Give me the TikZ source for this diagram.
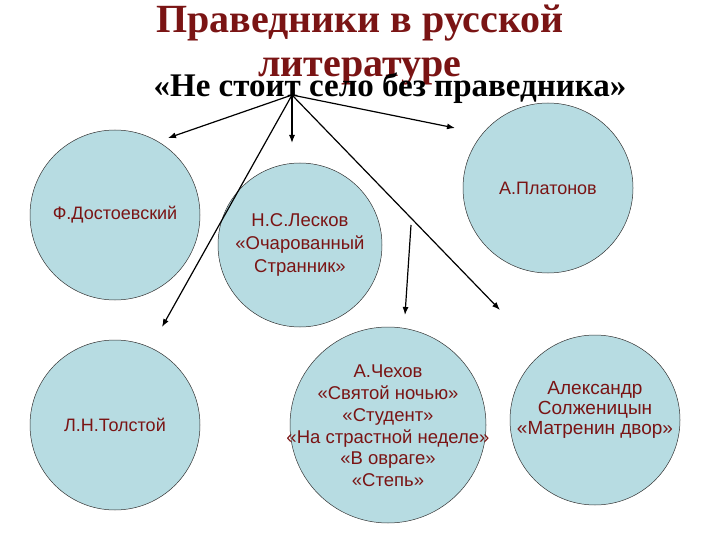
\documentclass[tikz,border=0pt]{standalone}
\usepackage{fontspec}
\setmainfont{Liberation Serif}
\setsansfont{Liberation Sans}
\usetikzlibrary{arrows.meta}
\definecolor{circ}{HTML}{B7DCE2}
\definecolor{dred}{HTML}{7A1414}
\begin{document}
\begin{tikzpicture}[x=1pt,y=-1pt,
  person/.style={circle,draw=black!80,line width=0.5pt,fill=circ,inner sep=0pt},
  lab/.style={font=\sffamily\fontsize{18}{22}\selectfont,text=dred,align=center},
  arr/.style={-{Latex[length=8pt,width=6pt]},line width=1.2pt}]
\useasboundingbox (0,0) rectangle (720,540);
\node[person,minimum size=170pt] (dost) at (115,215) {};
\node[person,minimum size=170pt] (plat) at (548,188) {};
\node[person,minimum size=164pt] (lesk) at (300,245) {};
\node[person,minimum size=170pt] (tol) at (115,425) {};
\node[person,minimum size=196pt] (chek) at (388,425) {};
\node[person,minimum size=170pt] (solz) at (595,420) {};
\node[lab] (tdost) at (115,215) {Ф.Достоевский};
\node[lab] (tplat) at (548,188) {А.Платонов};
\node[lab,font=\sffamily\fontsize{18.5}{23}\selectfont] (tlesk) at (300,245) {Н.С.Лесков\\«Очарованный\\Странник»};
\node[lab,font=\sffamily\fontsize{18.5}{21.8}\selectfont] (tchek) at (388,426) {А.Чехов\\«Святой ночью»\\«Студент»\\«На страстной неделе»\\«В овраге»\\«Степь»};
\node[lab,font=\sffamily\fontsize{19}{20}\selectfont] (tsolz) at (595,410) {Александр\\Солженицын\\«Матренин двор»};
\node[lab] (ttol) at (115,425) {Л.Н.Толстой};
\node[font=\bfseries\fontsize{40}{44}\selectfont,text=dred,align=center] (title) at (360,45) {Праведники в русской\\литературе};
\node[font=\bfseries\fontsize{33}{36}\selectfont] (sub) at (390,88) {«Не стоит село без праведника»};
\coordinate (o) at (292,95);
\coordinate (e1) at (168,138);
\coordinate (e2) at (292,143);
\coordinate (e3) at (455,128);
\coordinate (e4) at (162,327);
\coordinate (e5) at (500,310);
\coordinate (s6) at (411,225);
\coordinate (e6) at (405,315);
\draw[arr] (o) -- (e1);
\draw[arr] (o) -- (e2);
\draw[arr] (o) -- (e3);
\draw[arr] (o) -- (e4);
\draw[arr] (o) -- (e5);
\draw[arr] (s6) -- (e6);
\end{tikzpicture}
\end{document}
